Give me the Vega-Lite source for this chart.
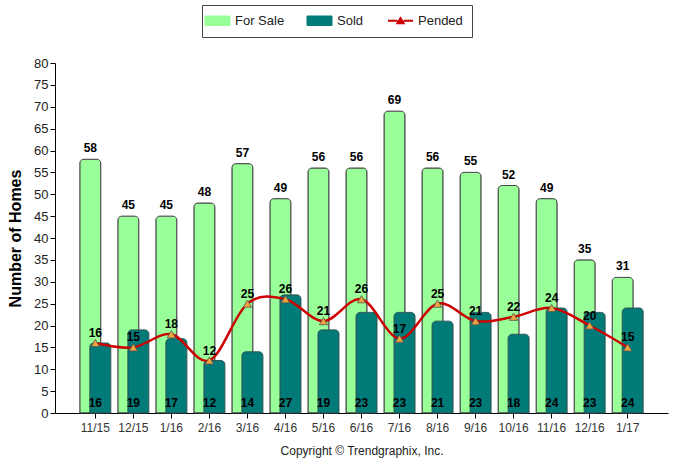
{
  "$schema": "https://vega.github.io/schema/vega-lite/v6.json",
  "width": 613,
  "height": 350,
  "autosize": "none",
  "padding": {"left": 55, "top": 63, "right": 15, "bottom": 53},
  "background": "white",
  "config": {
    "font": "Liberation Sans",
    "view": {"stroke": null},
    "axisY": {"labelOverlap": false, "tickCount": 16, "labelSeparation": 0},
    "axisQuantitative": {"labelOverlap": false, "tickCount": 16},
    "legend": {"symbolType": "M-1,-0.38H1V0.38H-1Z"}
  },
  "data": {
    "values": [
      {"month": "11/15", "forSale": 58, "sold": 16, "pended": 16},
      {"month": "12/15", "forSale": 45, "sold": 19, "pended": 15},
      {"month": "1/16", "forSale": 45, "sold": 17, "pended": 18},
      {"month": "2/16", "forSale": 48, "sold": 12, "pended": 12},
      {"month": "3/16", "forSale": 57, "sold": 14, "pended": 25},
      {"month": "4/16", "forSale": 49, "sold": 27, "pended": 26},
      {"month": "5/16", "forSale": 56, "sold": 19, "pended": 21},
      {"month": "6/16", "forSale": 56, "sold": 23, "pended": 26},
      {"month": "7/16", "forSale": 69, "sold": 23, "pended": 17},
      {"month": "8/16", "forSale": 56, "sold": 21, "pended": 25},
      {"month": "9/16", "forSale": 55, "sold": 23, "pended": 21},
      {"month": "10/16", "forSale": 52, "sold": 18, "pended": 22},
      {"month": "11/16", "forSale": 49, "sold": 24, "pended": 24},
      {"month": "12/16", "forSale": 35, "sold": 23, "pended": 20},
      {"month": "1/17", "forSale": 31, "sold": 24, "pended": 15}
    ]
  },
  "encoding": {
    "x": {
      "field": "month",
      "type": "ordinal",
      "sort": null,
      "scale": {"paddingInner": 0, "paddingOuter": 0.56},
      "axis": {
        "title": "Copyright © Trendgraphix, Inc.",
        "titleFontWeight": "normal",
        "titleFontSize": 12,
        "titleColor": "#222",
        "titlePadding": 12,
        "labelAngle": 0,
        "labelFontSize": 12,
        "labelColor": "#333",
        "labelPadding": 4,
        "domainColor": "#000",
        "tickColor": "#000",
        "tickSize": 5,
        "grid": false
      }
    }
  },
  "layer": [
    {
      "mark": {"type": "bar", "width": 21, "xOffset": -5, "stroke": "#444", "strokeWidth": 1, "cornerRadiusTopLeft": 4, "cornerRadiusTopRight": 4},
      "encoding": {
        "y": {
          "field": "forSale",
          "type": "quantitative",
          "scale": {"type": "linear", "domain": [0, 80], "nice": false},
          "axis": {"title": "Number of Homes", "titleFontSize": 16, "titleFontWeight": "bold", "titleColor": "#000", "titlePadding": 10, "tickCount": 16, "labelOverlap": false, "labelFontSize": 13, "labelColor": "#222", "domainColor": "#000", "tickColor": "#000", "tickSize": 5, "grid": false}
        },
        "color": {
          "datum": "For Sale",
          "type": "nominal",
          "scale": {"domain": ["For Sale", "Sold", "Pended"], "range": ["#99FF99", "#007B78", "#CC0000"]},
          "legend": {
            "title": null,
            "orient": "none",
            "legendX": 147,
            "legendY": -58,
            "direction": "horizontal",
            "fillColor": "white",
            "strokeColor": "#444",
            "padding": 9,
            "columnPadding": 20,
            "symbolSize": 625,
            "symbolStrokeColor": "#333",
            "symbolStrokeWidth": 1,
            "labelFontSize": 13,
            "labelColor": "#222",
            "labelOffset": 11,
            "encode": {
              "symbols": {
                "update": {
                  "shape": {"signal": "datum.value === 'Pended' ? 'M-1,0H-0.25M0.25,0H1M-0.25,0.2L0,-0.2L0.25,0.2Z' : 'M-1,-0.38H1V0.38H-1Z'"},
                  "fill": {"signal": "datum.value === 'Pended' ? '#F0A43C' : scale('color', datum.value)"},
                  "stroke": {"signal": "datum.value === 'Pended' ? '#CC0000' : '#333'"},
                  "strokeWidth": {"signal": "datum.value === 'Pended' ? 2 : 1"}
                }
              }
            }
          }
        }
      }
    },
    {
      "mark": {"type": "bar", "width": 21, "xOffset": 5, "stroke": "#2a5a58", "strokeWidth": 1, "cornerRadiusTopLeft": 4, "cornerRadiusTopRight": 4},
      "encoding": {
        "y": {"field": "sold", "type": "quantitative"},
        "color": {"datum": "Sold", "type": "nominal"}
      }
    },
    {
      "mark": {"type": "line", "interpolate": "cardinal", "strokeWidth": 2.5},
      "encoding": {
        "y": {"field": "pended", "type": "quantitative"},
        "color": {"datum": "Pended", "type": "nominal"}
      }
    },
    {
      "mark": {"type": "point", "shape": "triangle-up", "size": 70, "filled": true, "fill": "#F0A43C", "stroke": "#555", "strokeWidth": 0.8, "opacity": 1},
      "encoding": {
        "y": {"field": "pended", "type": "quantitative"}
      }
    },
    {
      "mark": {"type": "text", "fontWeight": "bold", "fontSize": 12, "color": "#000", "dy": -11, "xOffset": -5},
      "encoding": {
        "y": {"field": "forSale", "type": "quantitative"},
        "text": {"field": "forSale", "type": "quantitative"}
      }
    },
    {
      "mark": {"type": "text", "fontWeight": "bold", "fontSize": 12, "color": "#000", "dy": -10},
      "encoding": {
        "y": {"field": "pended", "type": "quantitative"},
        "text": {"field": "pended", "type": "quantitative"}
      }
    },
    {
      "mark": {"type": "text", "fontWeight": "bold", "fontSize": 12, "color": "#000", "baseline": "bottom", "dy": -3},
      "encoding": {
        "y": {"datum": 0, "type": "quantitative"},
        "text": {"field": "sold", "type": "quantitative"}
      }
    }
  ]
}
